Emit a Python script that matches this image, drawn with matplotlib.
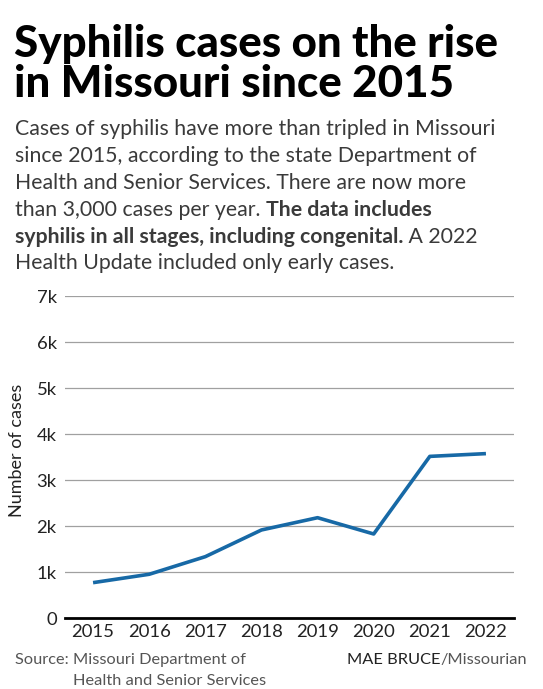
import matplotlib
matplotlib.use('Agg')
import matplotlib.pyplot as plt

years = [2015, 2016, 2017, 2018, 2019, 2020, 2021, 2022]
cases = [775, 957, 1340, 1920, 2187, 1833, 3520, 3580]
y_ticks = [0, 1000, 2000, 3000, 4000, 5000, 6000, 7000]
y_tick_labels = ['0', '1k', '2k', '3k', '4k', '5k', '6k', '7k']

W, H = 543, 689
plt.rcParams['font.family'] = ['Lato', 'DejaVu Sans']


def fy(py):
    return 1 - py / H


def fx(px):
    return px / W


def run_text(fig, x, y, parts, size, color):
    # draw pieces of text one after another on one line
    renderer = fig.canvas.get_renderer()
    for s, weight in parts:
        t = fig.text(fx(x), fy(y), s, fontsize=size, fontweight=weight,
                     color=color, va='baseline', ha='left')
        bb = t.get_window_extent(renderer=renderer)
        x += bb.width


def main():
    fig = plt.figure(figsize=(W / 100, H / 100), dpi=100)
    ax = fig.add_axes([fx(65), fy(618.3), fx(514 - 65), (618.3 - 296.3) / H])

    ax.plot(years, cases, color='#1769a6', linewidth=2.6, solid_capstyle='butt',
            solid_joinstyle='round')
    ax.set_xlim(2014.5, 2022.5)
    ax.set_ylim(0, 7000)
    ax.set_yticks(y_ticks)
    ax.set_yticklabels(y_tick_labels)
    ax.set_xticks(years)
    ax.set_xticklabels([str(y) for y in years])
    ax.grid(axis='y', color='#a0a0a0', linewidth=0.9)
    ax.set_axisbelow(True)
    for spin in ['left', 'right', 'top']:
        ax.spines[spin].set_visible(False)
    ax.spines['bottom'].set_color('black')
    ax.spines['bottom'].set_linewidth(2)
    ax.tick_params(axis='both', length=0, labelsize=13.3, colors='#222222')
    ax.tick_params(axis='y', pad=6)
    ax.tick_params(axis='x', pad=4)

    fig.text(fx(17.5), fy(450), 'Number of cases', rotation=90, fontsize=13,
             color='#222222', ha='center', va='center')

    # title
    fig.text(fx(14), fy(57), 'Syphilis cases on the rise', fontsize=31.6,
             fontweight='black', color='black', va='baseline')
    fig.text(fx(14), fy(97), 'in Missouri since 2015', fontsize=31.6,
             fontweight='black', color='black', va='baseline')

    # subtitle
    sub_color = '#3a3a3a'
    lines = [
        [('Cases of syphilis have more than tripled in Missouri', 'normal')],
        [('since 2015, according to the state Department of', 'normal')],
        [('Health and Senior Services. There are now more', 'normal')],
        [('than 3,000 cases per year. ', 'normal'), ('The data includes', 'bold')],
        [('syphilis in all stages, including congenital.', 'bold'), (' A 2022', 'normal')],
        [('Health Update included only early cases.', 'normal')],
    ]
    for i, parts in enumerate(lines):
        run_text(fig, 15, 135 + i * 26.9, parts, 15.3, sub_color)

    # footer
    fig.text(fx(15), fy(664), 'Source: Missouri Department of', fontsize=11.8,
             color='#555555', va='baseline')
    fig.text(fx(73), fy(685), 'Health and Senior Services', fontsize=11.8,
             color='#555555', va='baseline')
    renderer = fig.canvas.get_renderer()
    t1 = fig.text(fx(347), fy(664), 'MAE BRUCE', fontsize=11.8,
                  color='#222222', va='baseline')
    bb = t1.get_window_extent(renderer=renderer)
    fig.text(fx(347 + bb.width), fy(664), '/Missourian', fontsize=11.8,
             color='#555555', va='baseline')

    fig.savefig('out.png', dpi=100)


if __name__ == '__main__':
    main()
